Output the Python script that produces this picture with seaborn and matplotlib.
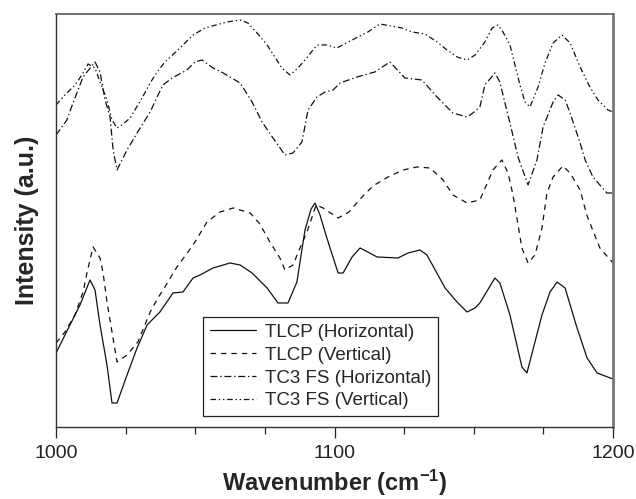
import matplotlib
matplotlib.use("Agg")
import matplotlib.pyplot as plt
import numpy as np
import pandas as pd
import seaborn as sns

# Polarised spectra, 1000-1200 cm^-1 (intensity in arbitrary units)
tlcp_h_wn = [1000.0, 1005.0, 1008.6, 1012.2, 1014.0, 1015.8, 1018.3, 1020.1, 1021.9, 1025.5,
             1029.1, 1032.7, 1037.3, 1042.0, 1045.6, 1049.2, 1051.7, 1056.4, 1062.5, 1066.1,
             1070.4, 1075.8, 1079.7, 1083.3, 1086.5, 1089.4, 1091.6, 1093.0, 1094.8, 1096.6,
             1098.4, 1101.3, 1103.1, 1106.3, 1109.2, 1115.3, 1122.8, 1126.4, 1130.7, 1133.2,
             1139.7, 1144.0, 1147.6, 1150.5, 1152.2, 1157.6, 1159.4, 1163.0, 1167.3, 1169.1,
             1174.5, 1177.4, 1179.9, 1182.8, 1187.1, 1190.7, 1194.3, 1200.0]
tlcp_h_int = [74, 102, 122, 147, 137, 102, 62, 24, 24, 52,
              79, 102, 115, 134, 135, 149, 152, 159, 164, 162,
              154, 139, 124, 124, 145, 197, 218, 224, 212, 195,
              179, 154, 154, 170, 179, 170, 169, 174, 177, 172,
              139, 125, 115, 119, 124, 149, 144, 112, 60, 54,
              112, 135, 145, 139, 99, 69, 54, 48]

tlcp_v_wn = [1000.0, 1003.2, 1006.8, 1009.7, 1011.1, 1013.3, 1015.8, 1016.9, 1018.3, 1020.1,
             1021.9, 1025.5, 1029.4, 1033.8, 1036.6, 1040.2, 1043.4, 1047.4, 1049.9, 1054.2,
             1058.9, 1063.6, 1069.7, 1073.2, 1076.8, 1080.4, 1082.2, 1085.1, 1087.6, 1090.1,
             1093.4, 1095.9, 1101.3, 1105.2, 1109.2, 1113.8, 1119.2, 1124.6, 1129.6, 1134.3,
             1139.0, 1142.5, 1147.6, 1152.2, 1156.9, 1160.1, 1162.3, 1164.1, 1165.5, 1167.3,
             1169.5, 1172.0, 1174.5, 1176.3, 1178.5, 1182.0, 1184.6, 1188.2, 1190.7, 1195.3,
             1200.0]
tlcp_v_int = [84, 95, 112, 135, 154, 180, 169, 154, 125, 95,
              65, 72, 85, 115, 129, 145, 160, 175, 185, 205,
              215, 219, 214, 203, 185, 169, 157, 162, 179, 195,
              222, 219, 209, 215, 228, 241, 250, 257, 260, 259,
              247, 232, 224, 227, 257, 267, 254, 232, 209, 179,
              164, 172, 199, 234, 250, 261, 254, 237, 211, 179,
              164]

tc3_h_wn = [1000.0, 1003.9, 1006.1, 1009.7, 1014.0, 1015.8, 1017.6, 1019.4, 1020.5, 1021.9,
            1025.5, 1029.1, 1033.8, 1036.3, 1038.4, 1041.7, 1047.0, 1049.9, 1052.4, 1056.4,
            1060.0, 1066.1, 1070.4, 1074.0, 1077.9, 1082.2, 1085.1, 1088.3, 1090.5, 1093.7,
            1096.6, 1099.5, 1102.0, 1108.1, 1114.5, 1119.9, 1125.3, 1131.4, 1136.8, 1142.5,
            1147.6, 1149.7, 1152.2, 1154.0, 1157.6, 1159.4, 1161.2, 1163.0, 1165.9, 1169.5,
            1172.7, 1174.9, 1178.5, 1180.3, 1182.8, 1184.6, 1188.2, 1190.0, 1192.8, 1197.8,
            1200.0]
tc3_h_int = [292, 307, 324, 350, 365, 355, 327, 310, 277, 257,
             277, 294, 315, 330, 342, 349, 357, 365, 367, 359,
             354, 344, 325, 305, 289, 272, 274, 285, 317, 330,
             335, 337, 344, 350, 355, 365, 349, 347, 330, 314,
             310, 314, 320, 342, 354, 345, 324, 304, 270, 242,
             267, 300, 325, 332, 327, 314, 284, 267, 250, 234,
             234]

tc3_v_wn = [1000.0, 1003.2, 1006.8, 1009.3, 1011.5, 1014.0, 1015.8, 1018.3, 1020.1, 1021.9,
            1023.7, 1026.6, 1030.9, 1033.8, 1036.3, 1039.1, 1043.8, 1046.7, 1049.2, 1053.5,
            1061.4, 1066.1, 1068.9, 1072.2, 1075.8, 1081.1, 1084.0, 1086.9, 1089.4, 1093.7,
            1097.3, 1100.9, 1108.4, 1112.0, 1116.3, 1124.2, 1127.8, 1132.5, 1136.8, 1140.4,
            1144.0, 1147.6, 1150.5, 1154.0, 1156.6, 1158.7, 1160.5, 1163.0, 1164.8, 1166.6,
            1168.4, 1170.2, 1173.1, 1175.6, 1178.5, 1181.7, 1184.6, 1188.2, 1191.7, 1194.6,
            1198.2, 1200.0]
tc3_v_int = [322, 332, 342, 352, 363, 359, 345, 327, 307, 299,
             302, 309, 329, 344, 355, 365, 377, 385, 392, 399,
             405, 407, 404, 394, 382, 359, 352, 359, 367, 382,
             382, 379, 390, 395, 403, 399, 395, 393, 385, 377,
             370, 367, 372, 385, 399, 402, 395, 382, 362, 342,
             325, 320, 340, 364, 384, 392, 384, 360, 340, 327,
             317, 315]

series_names = ["TLCP (Horizontal)", "TLCP (Vertical)",
                "TC3 FS (Horizontal)", "TC3 FS (Vertical)"]
x_ticks = [1000, 1100, 1200]

frames = []
for name, wn, inten in zip(series_names,
                           [tlcp_h_wn, tlcp_v_wn, tc3_h_wn, tc3_v_wn],
                           [tlcp_h_int, tlcp_v_int, tc3_h_int, tc3_v_int]):
    frames.append(pd.DataFrame({"wavenumber": wn, "intensity": inten, "series": name}))
df = pd.concat(frames, ignore_index=True)

sns.set_style("ticks")
plt.rcParams["font.family"] = ["Liberation Sans", "DejaVu Sans"]
plt.rcParams["mathtext.fontset"] = "custom"
plt.rcParams["mathtext.rm"] = "Liberation Sans:bold"
plt.rcParams["mathtext.default"] = "rm"
plt.rcParams["lines.scale_dashes"] = False

fig = plt.figure(figsize=(6.36, 4.99), dpi=100)
ax = fig.add_axes([0.0881, 0.1443, 0.8757, 0.8277])

line_dashes = {
    "TLCP (Horizontal)": "",
    "TLCP (Vertical)": (4, 3.5),
    "TC3 FS (Horizontal)": (5, 2, 1, 2),
    "TC3 FS (Vertical)": (4, 2, 1, 2, 1, 2),
}
sns.lineplot(data=df, x="wavenumber", y="intensity", style="series",
             style_order=series_names, dashes=line_dashes, color="#111111",
             linewidth=0.9, estimator=None, sort=False, ax=ax)

ax.set_xlim(1000, 1200)
ax.set_ylim(0, 413)
ax.set_xticks(x_ticks)
ax.set_xticks(np.arange(1000, 1201, 25), minor=True)
ax.set_yticks([])
ax.tick_params(axis="x", which="major", length=8, width=0.9, direction="out",
               labelsize=14, pad=5, colors="#222222")
ax.tick_params(axis="x", which="minor", length=5, width=0.9, direction="out")

for side in ["left", "bottom"]:
    ax.spines[side].set_color("#333333")
    ax.spines[side].set_linewidth(1.0)
ax.spines["top"].set_color("#666666")
ax.spines["top"].set_linewidth(1.3)
ax.spines["right"].set_color("#777777")
ax.spines["right"].set_linewidth(2.0)

ax.set_xlabel(r"Wavenumber (cm$^{-1}$)", fontsize=17, fontweight="bold", labelpad=4)
ax.set_ylabel("Intensity (a.u.)", fontsize=18, fontweight="bold", labelpad=12)

leg = ax.legend(loc="lower left", bbox_to_anchor=(0.264, 0.027), borderaxespad=0,
                fontsize=13.5, frameon=True, fancybox=False, framealpha=1,
                edgecolor="#222222", handlelength=2.45, handletextpad=0.5,
                labelspacing=0.3, borderpad=0.35, title=None)
leg.get_frame().set_linewidth(0.9)
for h in leg.get_lines():
    h.set_linewidth(0.9)

fig.savefig("out.png", dpi=100)
